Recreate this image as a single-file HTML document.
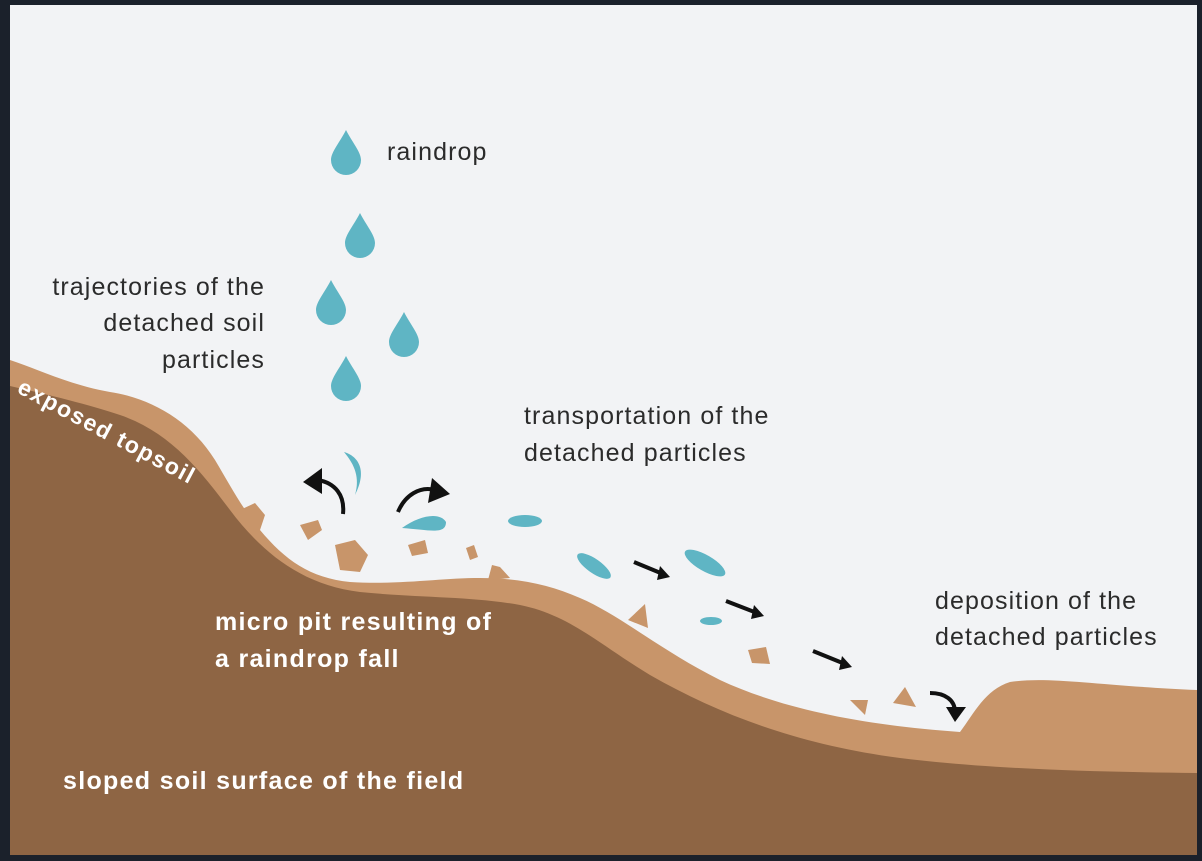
<!DOCTYPE html>
<html><head><style>
html,body{margin:0;padding:0;background:#1b212b;}
svg{display:block}
text{font-family:"Liberation Sans",sans-serif;}
</style></head><body>
<svg width="1202" height="861" viewBox="0 0 1202 861">
<rect x="0" y="0" width="1202" height="861" fill="#1b212b"/>
<rect x="10" y="5" width="1187" height="850" fill="#f2f3f5"/>
<path d="M10 360 C40 370 70 385 110 392 C150 398 190 420 215 460 C230 485 240 505 260 530 C285 560 310 578 350 582 C400 585 440 578 480 578 C520 578 550 585 580 598 C620 615 660 650 720 680 C780 708 860 725 960 732 C975 712 985 690 1010 682 C1050 676 1100 686 1197 690 L1197 855 L10 855 Z" fill="#c8956a"/>
<path d="M10 386 C50 395 90 405 120 415 C170 432 200 470 230 510 C260 550 300 585 360 592 C420 598 470 596 520 605 C570 615 600 645 650 675 C720 715 800 745 900 758 C980 768 1080 772 1197 773 L1197 855 L10 855 Z" fill="#8e6544"/>
<g fill="#5fb5c4">
<path d="M346 130 C352 142 361 152 361 160 A15 15 0 0 1 331 160 C331 152 340 142 346 130Z"/>
<path d="M360 213 C366 225 375 235 375 243 A15 15 0 0 1 345 243 C345 235 354 225 360 213Z"/>
<path d="M331 280 C337 292 346 302 346 310 A15 15 0 0 1 316 310 C316 302 325 292 331 280Z"/>
<path d="M404 312 C410 324 419 334 419 342 A15 15 0 0 1 389 342 C389 334 398 324 404 312Z"/>
<path d="M346 356 C352 368 361 378 361 386 A15 15 0 0 1 331 386 C331 378 340 368 346 356Z"/>
<path d="M344 452 C358 456 368 470 355 495 C360 478 355 465 344 452Z"/>
<path d="M402 528 C420 515 440 512 446 522 C446 535 430 530 402 528Z"/>
<ellipse cx="525" cy="521" rx="17" ry="6"/>
<ellipse cx="594" cy="566" rx="20" ry="7" transform="rotate(35 594 566)"/>
<ellipse cx="705" cy="563" rx="23" ry="8" transform="rotate(30 705 563)"/>
<ellipse cx="711" cy="621" rx="11" ry="4"/>
</g>
<g fill="#c8956a">
<path d="M240 510 L255 503 L265 515 L260 530 L245 525Z"/>
<path d="M300 525 L318 520 L322 530 L308 540Z"/>
<path d="M335 545 L355 540 L368 555 L360 572 L340 570Z"/>
<path d="M408 545 L425 540 L428 553 L412 556Z"/>
<path d="M466 548 L474 545 L478 557 L470 560Z"/>
<path d="M492 565 L500 567 L510 578 L488 580Z"/>
<path d="M628 620 L645 604 L648 628Z"/>
<path d="M748 650 L766 647 L770 664 L752 663Z"/>
<path d="M850 700 L868 700 L865 715Z"/>
<path d="M893 703 L905 687 L916 707Z"/>
</g>
<g fill="none" stroke="#111" stroke-width="4">
<path d="M343 514 C345 495 335 483 318 480"/>
<path d="M398 512 C405 495 420 486 435 490"/>
<path d="M634 562 L663 574"/>
<path d="M726 601 L757 613"/>
<path d="M813 651 L845 664"/>
<path d="M930 693 C945 693 955 700 955 712"/>
</g>
<g fill="#111">
<path d="M303 482 L322 468 L322 494Z"/>
<path d="M450 494 L432 478 L428 503Z"/>
<path d="M670 577 L660 566 L657 580Z"/>
<path d="M764 616 L754 605 L751 619Z"/>
<path d="M852 667 L842 656 L839 670Z"/>
<path d="M955 722 L946 707 L966 707Z"/>
</g>
<g fill="#2b2b2b" font-size="25" letter-spacing="1.1">
<text x="387" y="160">raindrop</text>
<text x="265" y="295" text-anchor="end">trajectories of the</text>
<text x="265" y="331" text-anchor="end">detached soil</text>
<text x="265" y="368" text-anchor="end">particles</text>
<text x="524" y="424">transportation of the</text>
<text x="524" y="461">detached particles</text>
<text x="935" y="609">deposition of the</text>
<text x="935" y="645">detached particles</text>
</g>
<g fill="#fff" font-size="25" font-weight="bold" letter-spacing="1.3">
<text x="215" y="630">micro pit resulting of</text>
<text x="215" y="667">a raindrop fall</text>
<text x="63" y="789">sloped soil surface of the field</text>
<text x="16" y="392" font-size="23" letter-spacing="1.5" transform="rotate(28 16 392)">exposed topsoil</text>
</g>
</svg>
</body></html>
